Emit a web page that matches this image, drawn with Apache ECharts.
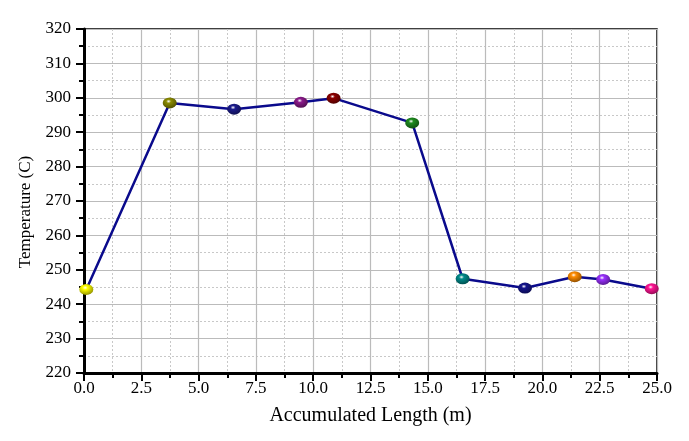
<!DOCTYPE html>
<html>
<head>
<meta charset="utf-8">
<script src="https://cdn.jsdelivr.net/npm/echarts@6/dist/echarts.min.js"></script>
<style>
html,body{margin:0;padding:0;background:#fff;}
#chart{width:689px;height:441px;}
</style>
</head>
<body>
<div id="chart"></div>
<script>
const lengths = [0.1, 3.74, 6.55, 9.46, 10.89, 14.32, 16.52, 19.24, 21.41, 22.65, 24.77];
const temps = [244.3, 298.5, 296.7, 298.7, 299.9, 292.7, 247.4, 244.7, 248.0, 247.2, 244.5];
const pointColors = ['#ffff00', '#8b8b00', '#1c1c8c', '#8b1a8b', '#8b0000', '#1e8b1e', '#008b8b', '#14148c', '#ff8c00', '#9a30ff', '#ff1493'];
const xTitle = 'Accumulated Length (m)';
const yTitle = 'Temperature (C)';

function shade(hex, f) {
  const n = parseInt(hex.slice(1), 16);
  let r = (n >> 16) & 255, g = (n >> 8) & 255, b = n & 255;
  r = Math.round(r * f); g = Math.round(g * f); b = Math.round(b * f);
  return 'rgb(' + r + ',' + g + ',' + b + ')';
}
function sphere(c) {
  return {
    type: 'radial', x: 0.42, y: 0.35, r: 0.7,
    colorStops: [
      {offset: 0, color: '#ffffff'},
      {offset: 0.25, color: c},
      {offset: 1, color: shade(c, 0.55)}
    ]
  };
}

const chart = echarts.init(document.getElementById('chart'));
const font = 'Liberation Serif';
chart.setOption({
  animation: false,
  backgroundColor: '#fff',
  grid: {left: 84, right: 32, top: 29, bottom: 68, show: true, borderColor: '#000', borderWidth: 1.5, backgroundColor: 'transparent'},
  xAxis: {
    type: 'value', min: 0, max: 25, interval: 2.5,
    name: xTitle, nameLocation: 'middle', nameGap: 33,
    nameTextStyle: {fontFamily: font, fontSize: 20, color: '#000'},
    axisLine: {show: true, onZero: false, lineStyle: {color: '#000', width: 3}},
    axisTick: {show: true, length: 8, lineStyle: {color: '#000', width: 2}},
    minorTick: {show: true, splitNumber: 2, length: 5, lineStyle: {color: '#000', width: 2}},
    axisLabel: {fontFamily: font, fontSize: 17, color: '#000', margin: 7, formatter: v => v.toFixed(1)},
    splitLine: {show: true, lineStyle: {color: '#bbbbbb', width: 1.2}},
    minorSplitLine: {show: true, lineStyle: {color: '#c8c8c8', width: 1, type: [2, 2]}}
  },
  yAxis: {
    type: 'value', min: 220, max: 320, interval: 10,
    name: yTitle, nameLocation: 'middle', nameGap: 50, nameRotate: 90,
    nameTextStyle: {fontFamily: font, fontSize: 17, color: '#000', padding: [0, 22, 0, 0]},
    axisLine: {show: true, onZero: false, lineStyle: {color: '#000', width: 3}},
    axisTick: {show: true, length: 8, lineStyle: {color: '#000', width: 2}},
    minorTick: {show: true, splitNumber: 2, length: 5, lineStyle: {color: '#000', width: 2}},
    axisLabel: {fontFamily: font, fontSize: 17, color: '#000', margin: 13},
    splitLine: {show: true, lineStyle: {color: '#bbbbbb', width: 1.2}},
    minorSplitLine: {show: true, lineStyle: {color: '#c8c8c8', width: 1, type: [2, 2]}}
  },
  series: [{
    type: 'line',
    data: lengths.map((x, i) => ({
      value: [x, temps[i]],
      itemStyle: {color: sphere(pointColors[i]), borderWidth: 0}
    })),
    symbol: 'circle',
    symbolSize: [14, 11],
    showSymbol: true,
    lineStyle: {color: '#0a0a8c', width: 2.5},
    z: 5
  }]
});
</script>
</body>
</html>
